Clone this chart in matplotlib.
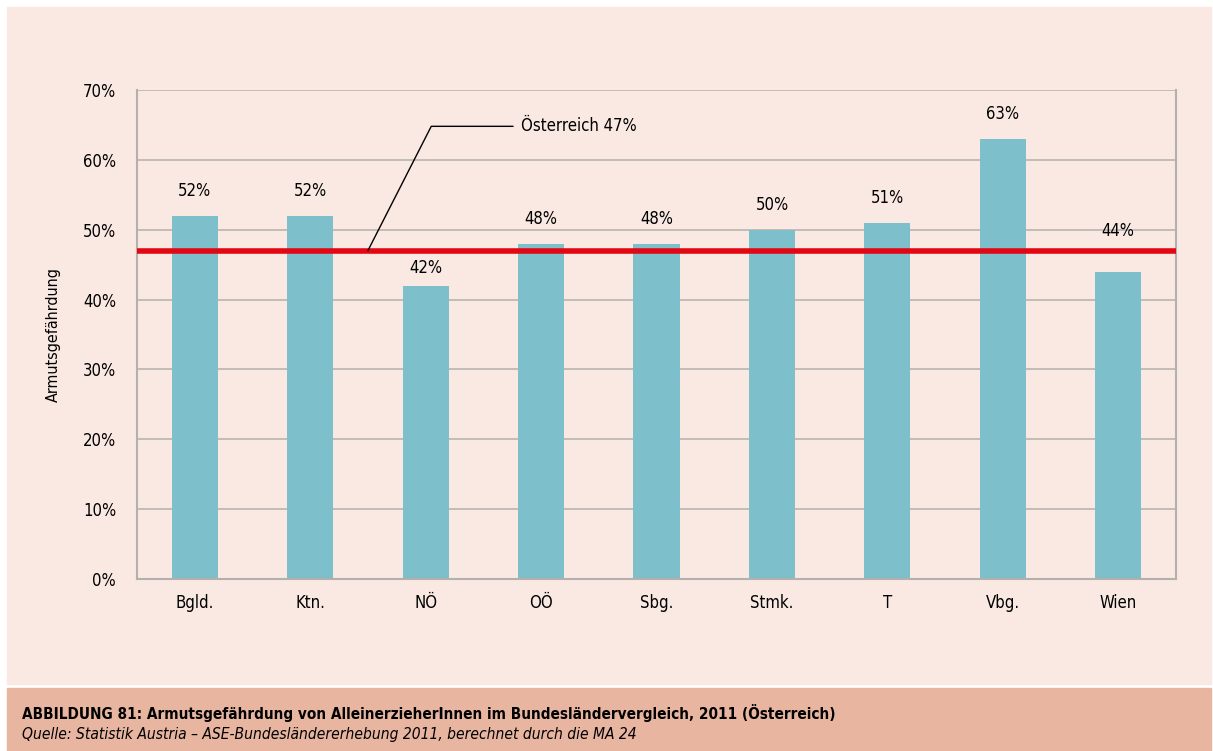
import matplotlib.pyplot as plt
from matplotlib.patches import Rectangle
from matplotlib.ticker import FuncFormatter

laender = ["Bgld.", "Ktn.", "NÖ", "OÖ", "Sbg.", "Stmk.", "T", "Vbg.", "Wien"]
quote = [52, 52, 42, 48, 48, 50, 51, 63, 44]
# label offsets above the bars (points), NÖ and Wien moved around the red line
label_off = [18, 18, 13, 18, 18, 18, 18, 18, 29]
oesterreich = 47

PINK = "#f9e9e2"
BAR = "#7dbfca"
RED = "#e30613"
SALMON = "#e8b5a0"
GRID = "#b3b0ae"

plt.rcParams["font.family"] = ["DejaVu Sans"]
plt.rcParams["font.stretch"] = "condensed"

W, H = 1213, 751
fig = plt.figure(figsize=(W / 100, H / 100), dpi=100)
fig.patch.set_facecolor("white")

# background panels
fig.patches.append(Rectangle((7 / W, 1 - 684 / H), 1204 / W, 677 / H,
                             transform=fig.transFigure, color=PINK, zorder=-2))
fig.patches.append(Rectangle((7 / W, 0), 1204 / W, 63 / H,
                             transform=fig.transFigure, color=SALMON, zorder=-2))

ax = fig.add_axes([137 / W, 1 - 579 / H, (1176 - 137) / W, (579 - 90) / H])
ax.set_facecolor(PINK)
ax.set_zorder(1)

x = range(len(laender))
ax.bar(x, quote, width=0.4, color=BAR, zorder=2)
ax.set_xlim(-0.5, len(laender) - 0.5)
ax.set_ylim(0, 70)
ax.set_yticks(range(0, 71, 10))
ax.yaxis.set_major_formatter(FuncFormatter(lambda v, p: f"{v:.0f}%"))
ax.set_xticks(list(x))
ax.set_xticklabels(laender)
ax.tick_params(length=0, labelsize=12, pad=11)
ax.tick_params(axis="y", pad=15)
ax.grid(axis="y", color=GRID, linewidth=1.1, zorder=1)
for side in ["left", "right", "bottom"]:
    ax.spines[side].set_color(GRID)
    ax.spines[side].set_linewidth(1.5)
ax.spines["top"].set_visible(False)
ax.set_ylabel("Armutsgefährdung", fontsize=11.5, labelpad=16)

for i, (v, off) in enumerate(zip(quote, label_off)):
    ax.annotate(f"{v}%", (i, v), xytext=(0, off), textcoords="offset points",
                ha="center", va="center", fontsize=12, zorder=4)

ax.axhline(oesterreich, color=RED, linewidth=4, zorder=3)
ax.annotate(f"Österreich {oesterreich}%", xy=(1.5, oesterreich),
            xytext=(2.83, 64.8), va="center", ha="left", fontsize=12,
            arrowprops=dict(arrowstyle="-", color="black", lw=1,
                            connectionstyle="angle,angleA=0,angleB=63,rad=0",
                            shrinkA=4, shrinkB=0), zorder=4)

fig.text(22 / W, 1 - 713 / H,
         "ABBILDUNG 81: Armutsgefährdung von AlleinerzieherInnen im "
         "Bundesländervergleich, 2011 (Österreich)",
         fontsize=11, fontweight="bold", va="center")
fig.text(22 / W, 1 - 735 / H,
         "Quelle: Statistik Austria – ASE-Bundesländererhebung 2011, "
         "berechnet durch die MA 24",
         fontsize=11.2, style="italic", va="center")

fig.savefig("out.png", dpi=100, facecolor=fig.get_facecolor())
